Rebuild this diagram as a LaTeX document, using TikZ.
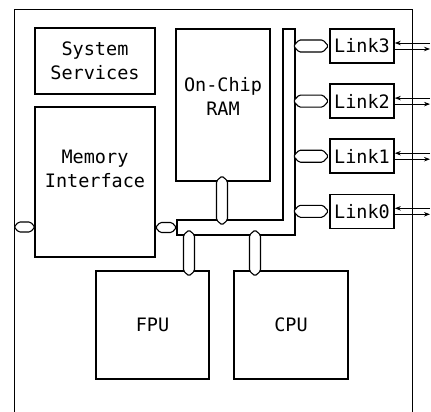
\documentclass[tikz,border=0pt]{standalone}
\usepackage{fontspec}
\newfontfamily\chipfont{DejaVu Sans Mono}
\usepackage{tikz}
\usetikzlibrary{shapes.symbols, arrows.meta, positioning}
\tikzset{
  bloque/.style={rectangle, draw=black, line width=1.6pt, align=center,
                 inner sep=0pt, font=\chipfont\fontsize{18.5}{24}\selectfont},
  enlace/.style={bloque, minimum width=64pt, minimum height=34pt},
  conector/.style={signal, draw=black, line width=1.1pt, fill=white,
                   rounded corners=1.5pt, inner sep=0pt, signal pointer angle=95},
  conh/.style={conector, signal to=east and west, minimum height=10pt},
  conv/.style={conector, signal to=north and south, minimum width=11pt},
  flecha/.style={-{Stealth[length=6pt, width=4.5pt]}, line width=0.8pt}
}

\begin{document}
\begin{tikzpicture}[x=1pt, y=-1pt,
  marco/.style={draw=black, line width=0.8pt},
  bus/.style={draw=black, line width=1.1pt}
]
  \useasboundingbox (0,0) rectangle (431,412);

  % ── Marco del chip ──
  \draw[marco] (14,412) -- (14,9) -- (412,9) -- (412,412);
  \coordinate (borde) at (430,0);

  % ── Bloques internos ──
  \node[bloque, minimum width=120pt, minimum height=66pt]  (sys) at (95,61)
        {System\\Services};
  \node[bloque, minimum width=120pt, minimum height=150pt, text depth=26pt]
        (mem) at (95,182) {Memory\\Interface};
  \node[bloque, minimum width=94pt, minimum height=152pt, text depth=18pt]
        (ram) at (223,105) {On-Chip\\RAM};
  \node[bloque, minimum width=113pt, minimum height=108pt] (fpu) at (152.5,325)
        {FPU};
  \node[bloque, minimum width=114pt, minimum height=108pt] (cpu) at (291,325)
        {CPU};

  % ── Enlaces ──
  \node[enlace]                        (link3) at (362,46) {Link3};
  \node[enlace, below=19.5pt of link3] (link2) {Link2};
  \node[enlace, below=19.5pt of link2] (link1) {Link1};
  \node[enlace, below=19.5pt of link1] (link0) {Link0};

  % ── Bus en L ──
  \draw[bus] (177,220) -- (283,220) -- (283,29) -- (295,29)
             -- (295,235) -- (177,235) -- cycle;

  % ── Conectores al bus ──
  \node[conh, minimum width=21pt] (cext) at (24.5,227)  {};
  \node[conh, minimum width=21pt] (cmem) at (166,227.5) {};
  \node[conv, minimum height=39pt] (cram) at (222,200.5) {};
  \node[conv, minimum height=36pt] (cfpu) at (189,253)   {};
  \node[conv, minimum height=36pt] (ccpu) at (255,253)   {};
  \node[conh, minimum width=35pt, minimum height=12pt, left=0pt of link3] (c3) {};
  \node[conh, minimum width=35pt, minimum height=12pt, left=0pt of link2] (c2) {};
  \node[conh, minimum width=35pt, minimum height=12pt, left=0pt of link1] (c1) {};
  \node[conh, minimum width=35pt, minimum height=12pt, left=0pt of link0] (c0) {};

  % ── Lineas serie ──
  \draw[flecha] ([yshift=3pt]link3.east -| borde)  -- ([yshift=3pt]link3.east);
  \draw[flecha] ([yshift=-3pt]link3.east) -- ([yshift=-3pt]link3.east -| borde);
  \draw[flecha] ([yshift=3pt]link2.east -| borde)  -- ([yshift=3pt]link2.east);
  \draw[flecha] ([yshift=-3pt]link2.east) -- ([yshift=-3pt]link2.east -| borde);
  \draw[flecha] ([yshift=3pt]link1.east -| borde)  -- ([yshift=3pt]link1.east);
  \draw[flecha] ([yshift=-3pt]link1.east) -- ([yshift=-3pt]link1.east -| borde);
  \draw[flecha] ([yshift=3pt]link0.east -| borde)  -- ([yshift=3pt]link0.east);
  \draw[flecha] ([yshift=-3pt]link0.east) -- ([yshift=-3pt]link0.east -| borde);
\end{tikzpicture}
\end{document}
